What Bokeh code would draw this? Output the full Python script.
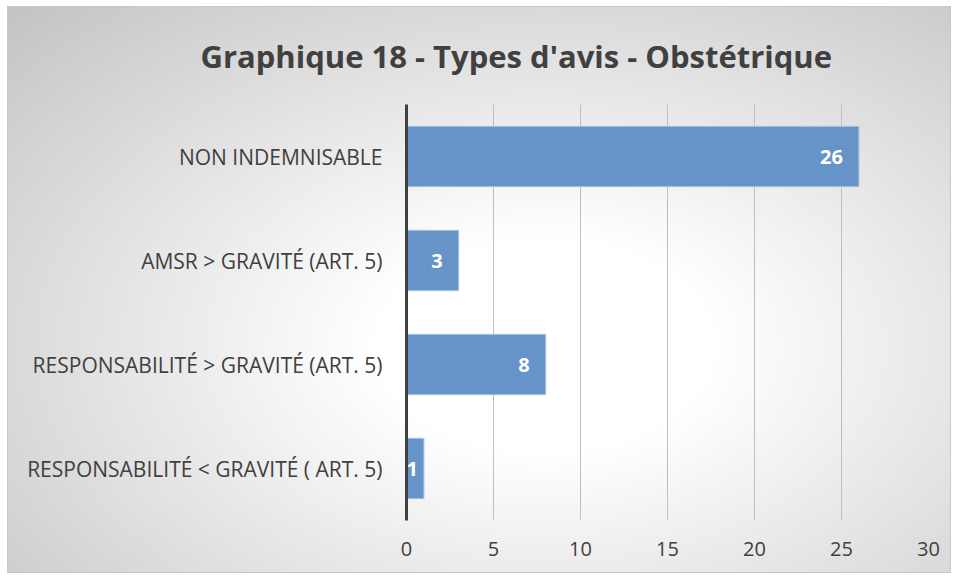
from bokeh.plotting import figure
from bokeh.models import ColumnDataSource, FactorRange, Range1d, FixedTicker
from bokeh.core.properties import value
from bokeh.embed import file_html
from bokeh.resources import INLINE

categories = [
    "RESPONSABILITÉ < GRAVITÉ ( ART. 5)",
    "RESPONSABILITÉ > GRAVITÉ (ART. 5)",
    "AMSR > GRAVITÉ (ART. 5)",
    "NON INDEMNISABLE",
]
counts = [1, 8, 3, 26]
x_ticks = [0, 5, 10, 15, 20, 25, 30]
title_text = "Graphique 18 - Types d'avis - Obstétrique"

FONT = "Open Sans"
TEXT = "#404040"

src = ColumnDataSource(dict(cat=categories, n=counts))
wide = [i for i, v in enumerate(counts) if v >= 2]
narrow = [i for i, v in enumerate(counts) if v < 2]
src_wide = ColumnDataSource(dict(cat=[categories[i] for i in wide],
                                 n=[counts[i] for i in wide],
                                 lab=[str(counts[i]) for i in wide]))
src_narrow = ColumnDataSource(dict(cat=[categories[i] for i in narrow],
                                   n=[0 for i in narrow],
                                   lab=[str(counts[i]) for i in narrow]))

p = figure(
    width=944, height=567,
    y_range=FactorRange(*categories, range_padding=0),
    x_range=Range1d(0, 30),
    output_backend="svg", toolbar_location=None,
    min_border_left=398, min_border_right=24,
    min_border_top=97, min_border_bottom=54,
)
p.styles = {
    "margin": "6px 0 0 7px",
    "background": "radial-gradient(ellipse farthest-corner at 57% 60%, #ffffff 0%, #ffffff 22%, #c3c3c3 100%)",
    "border": "1px solid #c8c8c8",
}
p.border_fill_alpha = 0
p.background_fill_alpha = 0
p.outline_line_color = None

p.title.text = title_text
p.title.align = "left"
p.title.offset = -206
p.title.vertical_align = "top"
p.title.text_font = FONT
p.title.text_font_style = "bold"
p.title.text_font_size = "31px"
p.title.text_color = TEXT
p.title.standoff = 52

p.hbar(y="cat", right="n", left=0, height=0.58, source=src,
       fill_color="#6794C8", line_color="#A9C3E3", line_width=1)
p.text(x="n", y="cat", text="lab", source=src_wide, x_offset=-16,
       text_align="right", text_baseline="middle",
       text_font=value(FONT), text_font_style="bold",
       text_font_size="20px", text_color="white")
p.text(x="n", y="cat", text="lab", source=src_narrow, x_offset=0,
       text_align="left", text_baseline="middle",
       text_font=value(FONT), text_font_style="bold",
       text_font_size="20px", text_color="white")

p.xaxis.ticker = FixedTicker(ticks=x_ticks)
p.xaxis.axis_line_color = None
p.xaxis.major_tick_line_color = None
p.xaxis.minor_tick_line_color = None
p.xaxis.major_label_text_font = FONT
p.xaxis.major_label_text_font_size = "20px"
p.xaxis.major_label_text_color = TEXT
p.xaxis.major_label_standoff = 15

p.yaxis.axis_line_color = "#404040"
p.yaxis.axis_line_width = 3
p.yaxis.major_tick_line_color = None
p.yaxis.minor_tick_line_color = None
p.yaxis.major_label_text_font = FONT
p.yaxis.major_label_text_font_size = "21px"
p.yaxis.major_label_text_color = TEXT
p.yaxis.major_label_standoff = 18

p.ygrid.grid_line_color = None
p.xgrid.grid_line_color = "#bfbfbf"
p.xgrid.grid_line_width = 1

open("out.html", "w").write(file_html(p, INLINE))
